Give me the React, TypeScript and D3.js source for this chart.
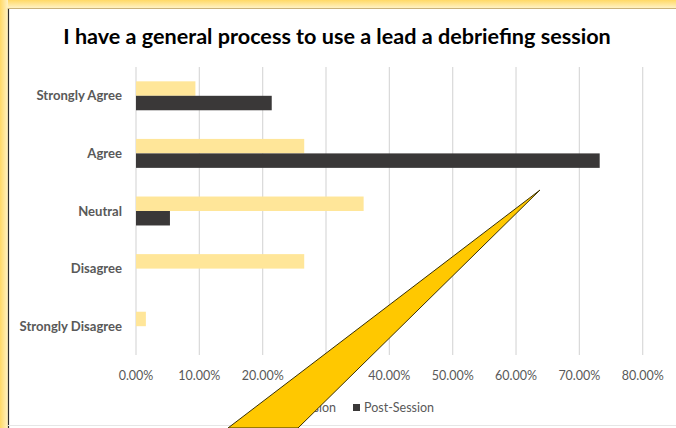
import React from "react";
import * as d3 from "d3";

const categories = ["Strongly Agree", "Agree", "Neutral", "Disagree", "Strongly Disagree"];
const preSession = [0.0938, 0.2656, 0.3594, 0.2656, 0.0156];
const postSession = [0.2143, 0.7321, 0.0536, 0, 0];
const ticks = [0, 0.1, 0.2, 0.3, 0.4, 0.5, 0.6, 0.7, 0.8];
const seriesNames = ["Pre-Session", "Post-Session"];
const colors = ["#FFE699", "#3A3838"];

const W = 676;
const H = 428;
const font = "Lato, 'Open Sans', sans-serif";

export default function App() {
  const x = d3.scaleLinear().domain([0, 0.8]).range([136, 642.7]);
  const y = d3.scaleBand().domain(categories).range([67, 355]);
  const inner = d3.scaleBand().domain(seriesNames).range([0, y.bandwidth()]).paddingInner(0).paddingOuter(0.99);
  const bh = inner.bandwidth();
  const fmt = (v: number) => (v * 100).toFixed(2) + "%";
  const series = [preSession, postSession];

  return (
    <svg width={W} height={H} style={{ position: "absolute", left: 0, top: 0 }}>
      <defs>
        <linearGradient id="topg" x1="0" y1="0" x2="0" y2="1">
          <stop offset="0" stopColor="#FFD966" />
          <stop offset="1" stopColor="#FFF2C4" />
        </linearGradient>
        <linearGradient id="leftg" x1="0" y1="0" x2="1" y2="0">
          <stop offset="0" stopColor="#FFD966" />
          <stop offset="1" stopColor="#FFF2C4" />
        </linearGradient>
      </defs>
      <rect x={0} y={0} width={W} height={H} fill="#ffffff" />
      <rect x={0} y={0} width={W} height={8} fill="url(#topg)" />
      <rect x={0} y={0} width={8} height={H} fill="url(#leftg)" />
      <line x1={8.5} y1={8} x2={8.5} y2={H} stroke="#2b2b2b" strokeWidth={1.2} />
      <line x1={8} y1={8.5} x2={W} y2={8.5} stroke="#c9b27a" strokeWidth={1} />
      <line x1={8} y1={425.5} x2={W} y2={425.5} stroke="#e6e6e6" strokeWidth={1} />

      <text x={337} y={44} textAnchor="middle" fontFamily={font} fontWeight={700} fontSize={21.6} fill="#000">
        I have a general process to use a lead a debriefing session
      </text>

      {ticks.map((t) => (
        <g key={t}>
          <line x1={x(t)} x2={x(t)} y1={67} y2={355} stroke="#d9d9d9" strokeWidth={1.2} />
          <text x={x(t)} y={380} textAnchor="middle" fontFamily={font} fontSize={12.5} fill="#595959">
            {fmt(t)}
          </text>
        </g>
      ))}

      {categories.map((c) => (
        <text key={c} x={122} y={(y(c) as number) + y.bandwidth() / 2 + 4.5} textAnchor="end" fontFamily={font} fontWeight={700} fontSize={13.1} fill="#595959">
          {c}
        </text>
      ))}

      {series.map((vals, si) =>
        vals.map((v, i) =>
          v > 0 ? (
            <rect
              key={si + "-" + i}
              x={x(0)}
              y={(y(categories[i]) as number) + (inner(seriesNames[si]) as number)}
              width={x(v) - x(0)}
              height={bh}
              fill={colors[si]}
            />
          ) : null
        )
      )}

      <g fontFamily={font} fontSize={12.5} fill="#595959">
        <rect x={260} y={404} width={7} height={7} fill={colors[0]} />
        <text x={336} y={412} textAnchor="end">{seriesNames[0]}</text>
        <rect x={353} y={404} width={7} height={7} fill={colors[1]} />
        <text x={364} y={412}>{seriesNames[1]}</text>
      </g>

      <polygon points="540,190 298,428 228,428" fill="#FFC800" stroke="#3a3000" strokeWidth={1} strokeLinejoin="miter" />
    </svg>
  );
}
